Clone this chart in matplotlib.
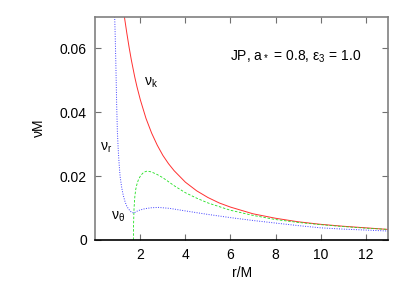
import matplotlib
matplotlib.use("Agg")
import matplotlib.pyplot as plt

plt.rcParams['font.family'] = ['Liberation Sans', 'DejaVu Sans']
plt.rcParams['font.size'] = 10

# Keplerian frequency (red)
r_k = [1.29, 1.4, 1.5, 1.6, 1.75, 1.85, 2.0, 2.25, 2.5, 2.75, 3.0, 3.25, 3.5, 4.0,
       4.5, 5.0, 5.5, 6.0, 7.0, 8.0, 9.0, 10.0, 11.0, 12.0, 13.0]
nu_k = [0.0700, 0.0648, 0.0604, 0.0564, 0.0511, 0.0480, 0.0439, 0.0381, 0.0335,
        0.0297, 0.0265, 0.0239, 0.0217, 0.0181, 0.0154, 0.0133, 0.0116, 0.0103,
        0.0082, 0.0068, 0.0057, 0.0049, 0.0043, 0.0038, 0.0033]

# vertical epicyclic frequency (green)
r_th = [1.69, 1.70, 1.72, 1.76, 1.80, 1.85, 1.92, 2.0, 2.08, 2.15, 2.3, 2.5, 2.75,
        3.0, 3.5, 4.0, 4.5, 5.0, 6.0, 7.0, 8.0, 9.0, 10.0, 11.0, 12.0, 13.0]
nu_th = [0.0, 0.0050, 0.0100, 0.0140, 0.0160, 0.0175, 0.0190, 0.0200, 0.0207,
         0.0212, 0.0216, 0.0213, 0.0205, 0.0195, 0.0170, 0.0148, 0.0131, 0.0116,
         0.0093, 0.0077, 0.0064, 0.0055, 0.0048, 0.0042, 0.0037, 0.0033]

# radial epicyclic frequency (blue)
r_r = [0.86, 0.88, 0.91, 0.95, 0.98, 1.02, 1.06, 1.10, 1.17, 1.24, 1.32, 1.40,
       1.55, 1.70, 1.8, 1.9, 2.05, 2.2, 2.5, 2.8, 3.3, 4.0, 5.0, 6.0, 7.0, 8.0,
       9.0, 10.0, 11.0, 12.0, 13.0]
nu_r = [0.0700, 0.0650, 0.0560, 0.0420, 0.0340, 0.0280, 0.0236, 0.0200, 0.0165,
        0.0140, 0.0120, 0.0105, 0.0090, 0.0084, 0.0088, 0.0092, 0.0095, 0.0098,
        0.0101, 0.0102, 0.0099, 0.0091, 0.0080, 0.0070, 0.0061, 0.0053, 0.0045,
        0.0038, 0.0034, 0.0031, 0.0028]

fig = plt.figure(figsize=(4.09, 2.86), dpi=100)
ax = fig.add_axes([0.233, 0.161, 0.716, 0.781])

ax.plot(r_k, nu_k, color='#ff3030', lw=0.7)
ax.plot(r_th, nu_th, color='#20e020', lw=0.6, ls=(0, (3, 2)))
ax.plot(r_r, nu_r, color='#4040ff', lw=0.7, ls=(0, (1, 1.5)))

ax.set_xlim(0, 13)
ax.set_ylim(0, 0.07)
ax.set_xticks([2, 4, 6, 8, 10, 12])
ax.set_yticks([0, 0.02, 0.04, 0.06])
ax.set_yticklabels(['0', '0.02', '0.04', '0.06'])
ax.tick_params(direction='in', length=4, top=True, right=True, color='#707070', pad=6)

for side in ['left', 'top', 'right']:
    ax.spines[side].set_color('#808080')
    ax.spines[side].set_linewidth(1.2)
ax.spines['bottom'].set_color('black')
ax.spines['bottom'].set_linewidth(1.2)

ax.set_xlabel('r/M', labelpad=3)
ax.set_ylabel(r'$\mathregular{\nu M}$', labelpad=10)

ax.text(2.46, 0.0492, r'$\mathregular{\nu_k}$', ha='center', va='center')
ax.text(0.5, 0.029, r'$\mathregular{\nu_r}$', ha='center', va='center')
ax.text(1.0, 0.0073, r'$\mathregular{\nu_\theta}$', ha='center', va='center')
ax.text(6.0, 0.0575, r'JP, a$\mathregular{_*}$ = 0.8, ε$\mathregular{_3}$ = 1.0',
        ha='left', va='center')

fig.savefig('out.png', dpi=100)
